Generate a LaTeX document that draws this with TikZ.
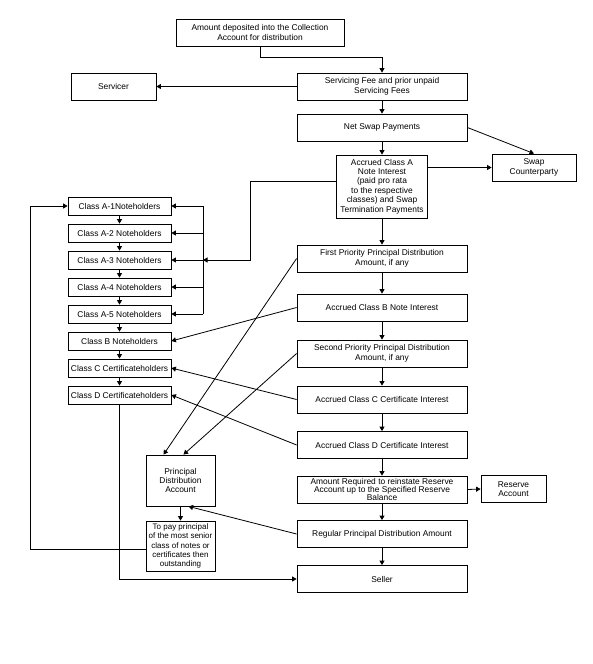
\documentclass[tikz,border=0pt]{standalone}
\usepackage{fontspec}
\setmainfont{Liberation Sans}
\usetikzlibrary{arrows.meta,calc}
\begin{document}
\begin{tikzpicture}[x=1pt,y=-1pt,
  box/.style={draw,line width=0.8pt,inner sep=0pt,align=center,font=\fontsize{8.4}{9.4}\selectfont},
  rbox/.style={box,minimum width=170pt,minimum height=27pt},
  cbox/.style={box,minimum width=103pt,minimum height=18pt},
  conn/.style={line width=0.8pt,-{Triangle[length=4.5pt,width=5pt]}},
  wire/.style={line width=0.8pt}]
\useasboundingbox[fill=white] (0,0) rectangle (593,664);

% right column
\node[box,minimum width=168pt,minimum height=27pt] (amt) at (260,32.5) {Amount deposited into the Collection\\Account for distribution};
\node[box,minimum width=85pt,minimum height=27pt] (servicer) at (113.5,86.5) {Servicer};
\node[rbox] (sfee) at (382,86.5) {Servicing Fee and prior unpaid\\Servicing Fees};
\node[rbox] (netswap) at (382,127.5) {Net Swap Payments};
\node[box,minimum width=91pt,minimum height=63pt] (accA) at (382,186.5) {Accrued Class A\\Note Interest\\(paid pro rata\\to the respective\\classes) and Swap\\Termination Payments};
\node[box,minimum width=84pt,minimum height=27pt] (swap) at (534,167.5) {Swap\\Counterparty};
\node[rbox] (fp) at (382,258.5) {First Priority Principal Distribution\\Amount, if any};
\node[rbox] (accB) at (382,307.5) {Accrued Class B Note Interest};
\node[rbox] (sp) at (382,353.5) {Second Priority Principal Distribution\\Amount, if any};
\node[rbox] (accC) at (382,399.5) {Accrued Class C Certificate Interest};
\node[rbox] (accD) at (382,445) {Accrued Class D Certificate Interest};
\node[rbox,font=\fontsize{8.4}{8.4}\selectfont] (ar) at (382,489.5) {Amount Required to reinstate Reserve\\Account up to the Specified Reserve\\Balance};
\node[box,minimum width=65pt,minimum height=27pt] (reserve) at (513.5,489) {Reserve\\Account};
\node[rbox] (reg) at (382,534) {Regular Principal Distribution Amount};
\node[rbox] (seller) at (382,579) {Seller};

% left column
\node[cbox] (A1) at (119.5,206) {Class A-1Noteholders};
\node[cbox] (A2) at (119.5,233) {Class A-2 Noteholders};
\node[cbox] (A3) at (119.5,260) {Class A-3 Noteholders};
\node[cbox] (A4) at (119.5,287) {Class A-4 Noteholders};
\node[cbox] (A5) at (119.5,314) {Class A-5 Noteholders};
\node[cbox] (B) at (119.5,341) {Class B Noteholders};
\node[cbox] (C) at (119.5,368) {Class C Certificateholders};
\node[cbox] (D) at (119.5,395) {Class D Certificateholders};

\node[box,minimum width=69pt,minimum height=51pt] (pda) at (180.5,480.5) {Principal\\Distribution\\Account};
\node[box,minimum width=69pt,minimum height=50pt,font=\fontsize{8}{9.4}\selectfont] (topay) at (180.5,546) {To pay principal\\of the most senior\\class of notes or\\certificates then\\outstanding};

\coordinate (busT) at (203,206);
\coordinate (busB) at (203,314);
\coordinate (busin) at (203,260);
\coordinate (k) at (250,260);

% main chain
\draw[conn] (amt.south) -- ++(0,11) -| (sfee.north);
\draw[conn] (sfee.west) -- (servicer.east);
\draw[conn] (sfee.south) -- (netswap.north);
\draw[conn] (netswap.south) -- (accA.north);
\draw[conn] (netswap.east) -- (swap.north);
\draw[conn] (accA.east |- swap.west) -- (swap.west);
\draw[conn] (accA.south) -- (fp.north);
\draw[conn] (fp.south) -- (accB.north);
\draw[conn] (accB.south) -- (sp.north);
\draw[conn] (sp.south) -- (accC.north);
\draw[conn] (accC.south) -- (accD.north);
\draw[conn] (accD.south) -- (ar.north);
\draw[conn] (ar.south) -- (reg.north);
\draw[conn] (reg.south) -- (seller.north);
\draw[conn] (ar.east) -- (reserve.west);

% class A bus
\draw[conn] ([yshift=5pt]accA.west) -| (k) -- (busin);
\draw[wire] (busT) -- (busB);
\foreach \n in {A1,A2,A3,A4,A5}{
  \draw[conn] (\n.east -| busT) -- (\n.east);
}

% class chain
\draw[conn] (A1.south) -- (A2.north);
\draw[conn] (A2.south) -- (A3.north);
\draw[conn] (A3.south) -- (A4.north);
\draw[conn] (A4.south) -- (A5.north);
\draw[conn] (A5.south) -- (B.north);
\draw[conn] (B.south) -- (C.north);
\draw[conn] (C.south) -- (D.north);
\draw[conn] (D.south) |- (seller.west);

% diagonals
\draw[conn] (fp.west) -- ([xshift=-17pt]pda.north);
\draw[conn] (sp.west) -- ([xshift=3pt]pda.north);
\draw[conn] (accB.west) -- (B.east);
\draw[conn] (accC.west) -- (C.east);
\draw[conn] (accD.west) -- (D.east);
\draw[conn] (reg.west) -- ([xshift=8pt]pda.south);

% principal account
\draw[conn] (pda.south) -- (topay.north);
\draw[conn] ([yshift=-3pt]topay.west) -- ++(-115,0) |- (A1.west);
\end{tikzpicture}
\end{document}
